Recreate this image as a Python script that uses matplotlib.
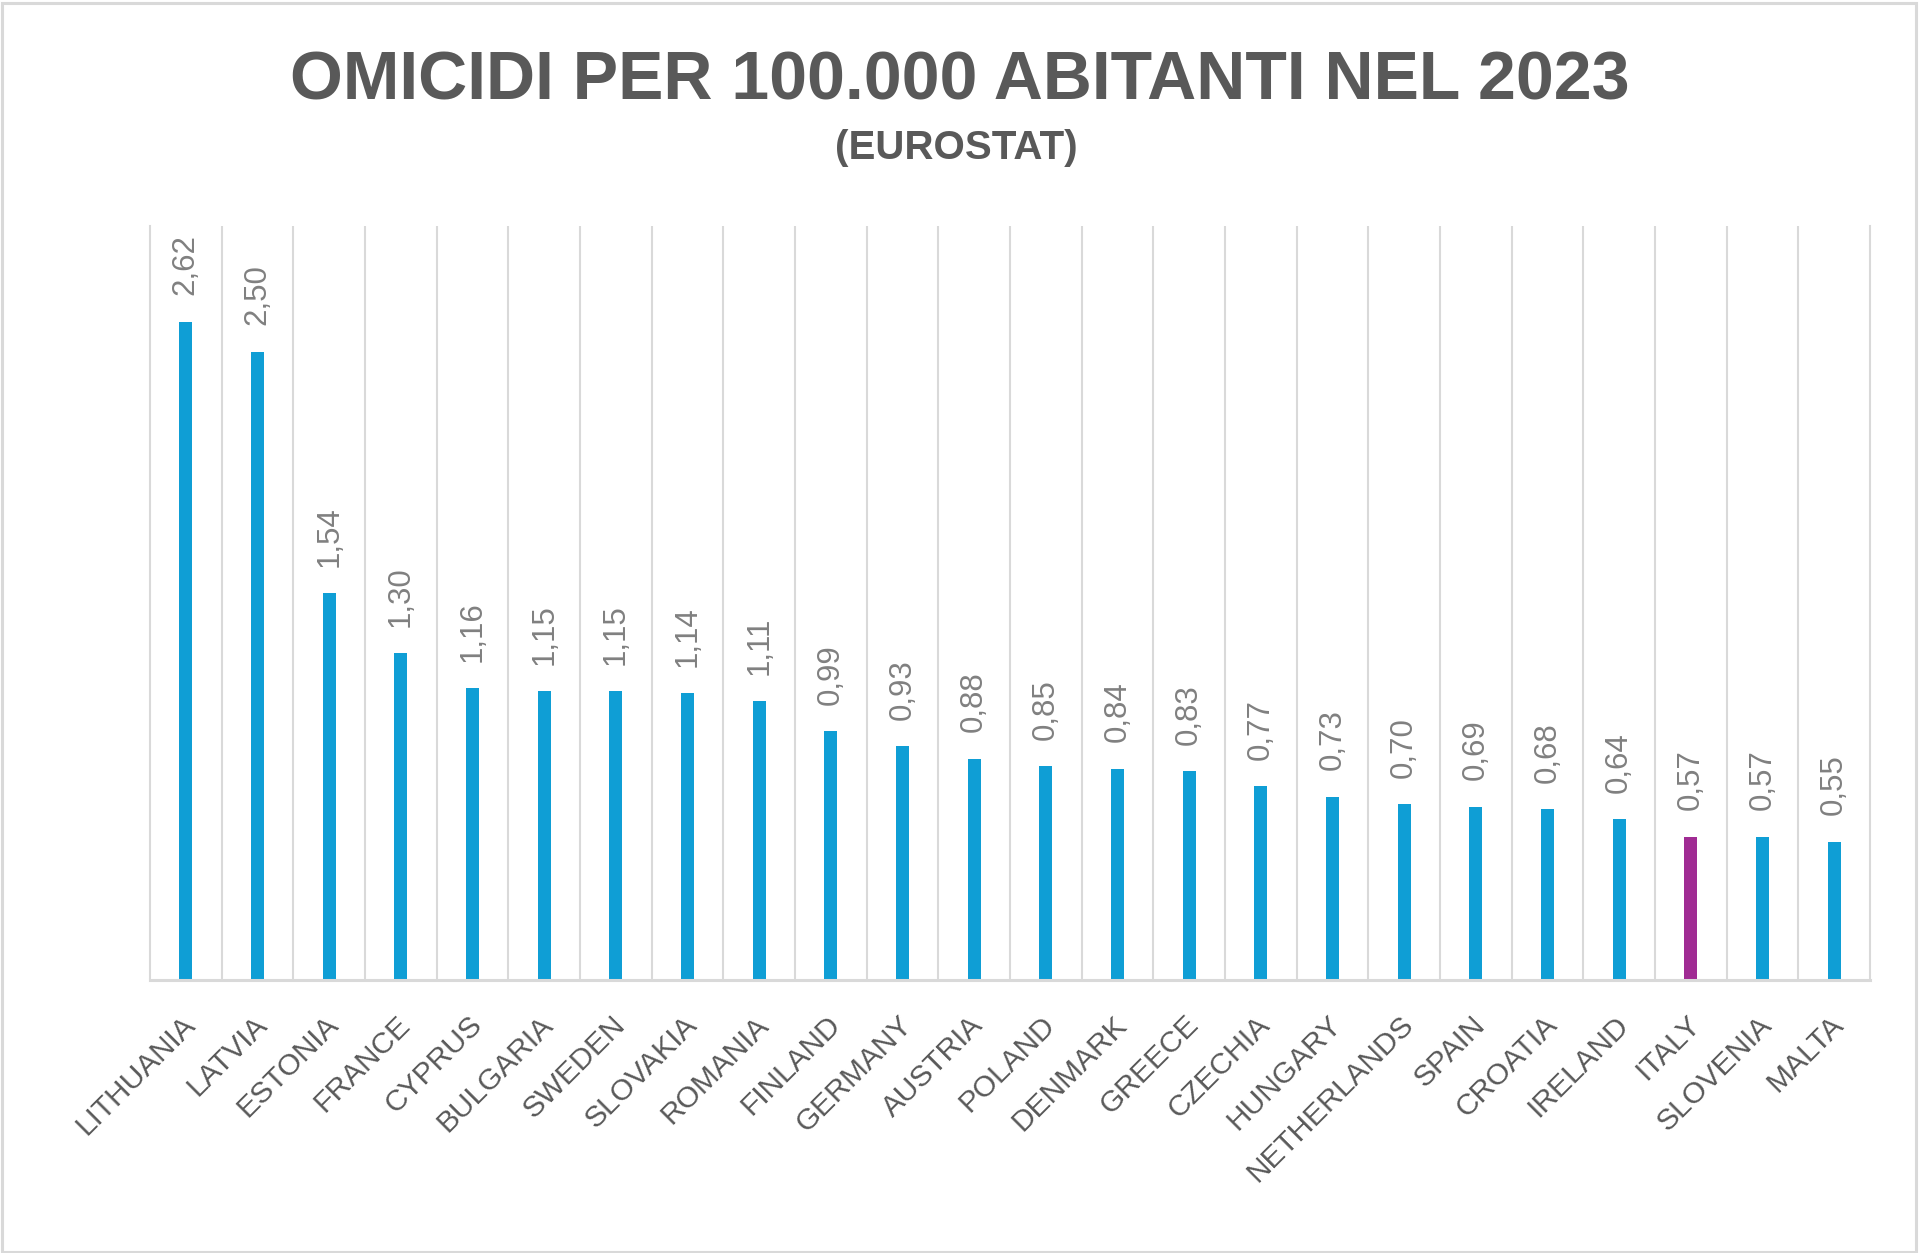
import matplotlib
matplotlib.use("Agg")
import matplotlib.pyplot as plt
from matplotlib.patches import Rectangle
from matplotlib.transforms import ScaledTranslation

countries = ["LITHUANIA", "LATVIA", "ESTONIA", "FRANCE", "CYPRUS", "BULGARIA",
             "SWEDEN", "SLOVAKIA", "ROMANIA", "FINLAND", "GERMANY", "AUSTRIA",
             "POLAND", "DENMARK", "GREECE", "CZECHIA", "HUNGARY", "NETHERLANDS",
             "SPAIN", "CROATIA", "IRELAND", "ITALY", "SLOVENIA", "MALTA"]
values = [2.62, 2.50, 1.54, 1.30, 1.16, 1.15, 1.15, 1.14, 1.11, 0.99, 0.93, 0.88,
          0.85, 0.84, 0.83, 0.77, 0.73, 0.70, 0.69, 0.68, 0.64, 0.57, 0.57, 0.55]
highlight = "ITALY"

title = "OMICIDI PER 100.000 ABITANTI NEL 2023"
subtitle = "(EUROSTAT)"

BLUE = "#0F9ED5"
PURPLE = "#A02B93"
GRID = "#D9D9D9"
TXT = "#595959"
LBL = "#808080"

plt.rcParams["font.family"] = ["Liberation Sans", "DejaVu Sans"]

W, H, DPI = 1920, 1253, 100
fig = plt.figure(figsize=(W / DPI, H / DPI), dpi=DPI)
fig.patch.set_facecolor("white")

ax = fig.add_axes([150 / W, 1 - 980 / H, 1720 / W, (980 - 226) / H])
x = list(range(len(countries)))
colors = [PURPLE if c == highlight else BLUE for c in countries]
ax.bar(x, values, width=0.185, color=colors, zorder=3)

ax.set_xlim(-0.5, len(countries) - 0.5)
ax.set_ylim(0, 3.0)
ax.set_yticks([])

# category gridlines
ax.set_xticks([i + 0.5 for i in range(len(countries) - 1)], minor=True)
ax.grid(which="minor", axis="x", color=GRID, linewidth=1.5, zorder=0)
ax.tick_params(which="minor", length=0)

for s in ["left", "right"]:
    ax.spines[s].set_color(GRID)
    ax.spines[s].set_linewidth(1.5)
ax.spines["top"].set_visible(False)
ax.spines["bottom"].set_color(GRID)
ax.spines["bottom"].set_linewidth(2.2)
ax.spines["bottom"].set_zorder(4)

ax.set_xticks(x)
ax.set_xticklabels(countries, rotation=45, ha="right", va="top",
                   rotation_mode="anchor", fontsize=21.5, color=TXT)
ax.tick_params(axis="x", which="major", length=0, pad=22)
off = ScaledTranslation(-5 / DPI, 0, fig.dpi_scale_trans)
for lab in ax.get_xticklabels():
    lab.set_transform(lab.get_transform() + off)

for xi, v in zip(x, values):
    ax.annotate(f"{v:.2f}".replace(".", ","), xy=(xi, v), xytext=(0, 19),
                textcoords="offset points", rotation=90, ha="center",
                va="bottom", fontsize=22.5, color=LBL)

fig.text(0.5, 1 - 99 / H, title, ha="center", va="baseline", fontsize=49,
         fontweight="bold", color=TXT)
fig.text(0.498, 1 - 159 / H, subtitle, ha="center", va="baseline", fontsize=29,
         fontweight="bold", color=TXT)

fig.patches.append(Rectangle((1.5 / W, 1.5 / H), (W - 6) / W, (H - 4) / H,
                             transform=fig.transFigure, fill=False,
                             edgecolor=GRID, linewidth=2.2))

fig.savefig("out.png", dpi=DPI)
